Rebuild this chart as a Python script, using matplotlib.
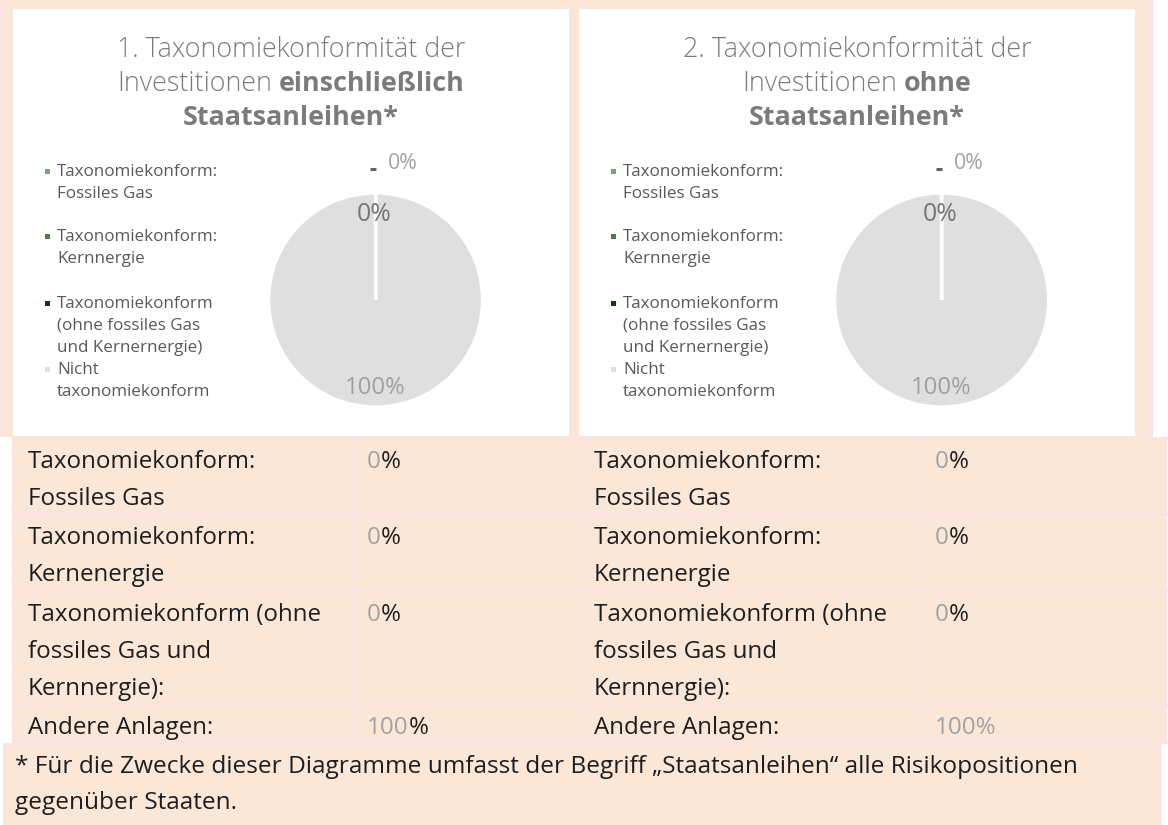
import matplotlib
matplotlib.use("Agg")
import matplotlib.pyplot as plt
from matplotlib.patches import Rectangle

# ---------------- data ----------------
categories = ["Taxonomiekonform:\nFossiles Gas",
              "Taxonomiekonform:\nKernnergie",
              "Taxonomiekonform\n(ohne fossiles Gas\nund Kernernergie)",
              "Nicht\ntaxonomiekonform"]
incl_values = [0, 0, 0, 100]
excl_values = [0, 0, 0, 100]
slice_colors = ["#7f9f7f", "#4e7a4e", "#0b3b0b", "#dfdfdf"]

title1 = ["1. Taxonomiekonformität der", "Investitionen", "einschließlich", "Staatsanleihen*"]
title2 = ["2. Taxonomiekonformität der", "Investitionen", "ohne", "Staatsanleihen*"]

table_labels = ["Taxonomiekonform:\nFossiles Gas",
                "Taxonomiekonform:\nKernenergie",
                "Taxonomiekonform (ohne\nfossiles Gas und\nKernnergie):",
                "Andere Anlagen:"]
table_incl = [0, 0, 0, 100]
table_excl = [0, 0, 0, 100]

footnote = ["* Für die Zwecke dieser Diagramme umfasst der Begriff \u201eStaatsanleihen\u201c alle Risikopositionen",
            "gegenüber Staaten."]

# ---------------- style ----------------
W, H, DPI = 1168, 825, 100
PEACH = "#fbe7d7"
PINK = "#fde2e3"
FONT = "Open Sans"
TITLE_C = "#7b7b7b"
LEG_C = "#595959"
VAL_GREY = "#a3a3a3"
TXT = "#1e1e1e"

fig = plt.figure(figsize=(W / DPI, H / DPI), dpi=DPI, facecolor="white")
bg = fig.add_axes([0, 0, 1, 1])
bg.set_xlim(0, W)
bg.set_ylim(H, 0)
bg.axis("off")
renderer = fig.canvas.get_renderer()


def width_of(s, size, **kw):
    t = bg.text(0, 0, s, fontsize=size, family=FONT, **kw)
    w = t.get_window_extent(renderer).width
    t.remove()
    return w


def fit(s, target, **kw):
    return 10 * target / width_of(s, 10, **kw)


def parts_text(x, y, parts, size, ha="left", va="center"):
    """parts: list of (string, color, weight)"""
    items = []
    total = 0
    for s, c, wgt in parts:
        w = width_of(s, size, fontweight=wgt)
        items.append((s, c, wgt, w))
        total += w
    x0 = x - total / 2 if ha == "center" else x
    for s, c, wgt, w in items:
        bg.text(x0, y, s, fontsize=size, family=FONT, color=c, fontweight=wgt,
                ha="left", va=va)
        x0 += w


def rect(x, y, w, h, fc, ec="none", lw=0, z=0):
    bg.add_patch(Rectangle((x, y), w, h, facecolor=fc, edgecolor=ec, linewidth=lw, zorder=z))


# ---------------- backgrounds ----------------
rect(0, 0, 1148, 437, PEACH)
rect(1148, 0, 5, 437, PINK)
rect(0, 0, 2, 437, PINK)
panels = [13, 579]
for px in panels:
    rect(px, 9, 556, 427, "white", z=1)

# ---------------- charts ----------------
title_size = fit(title1[0], 348, fontweight="light")
leg_size = fit("Taxonomiekonform:", 160)

for px, title, vals in [(13, title1, incl_values), (579, title2, excl_values)]:
    cx = px + 278
    parts_text(cx, 57, [(title[0], TITLE_C, "light")], title_size, ha="center", va="baseline")
    parts_text(cx, 91, [(title[1], TITLE_C, "light"), (" ", TITLE_C, "light"),
                        (title[2], TITLE_C, "bold")], title_size, ha="center", va="baseline")
    parts_text(cx, 125, [(title[3], TITLE_C, "bold")], title_size, ha="center", va="baseline")

    # legend (manual, entries at fixed pitch like the original)
    entry_y = [172, 237, 304, 370]
    for lab, col, ey in zip(categories, slice_colors, entry_y):
        rect(px + 32, ey - 3, 5, 5, col, z=3)
        for i, line in enumerate(lab.split("\n")):
            bg.text(px + 44, ey + i * 22, line, fontsize=leg_size, family=FONT,
                    color=LEG_C, ha="left", va="center", zorder=3)

    # pie
    pcx, pcy, r = px + 362.6, 300, 107
    ax = fig.add_axes([(pcx - r) / W, 1 - (pcy + r) / H, 2 * r / W, 2 * r / H])
    ax.set_zorder(4)
    wedges, _ = ax.pie(vals, colors=slice_colors, startangle=90, counterclock=False,
                       wedgeprops=dict(edgecolor="white", linewidth=2.4), radius=1)
    for w, v in zip(wedges, vals):
        if v == 0:
            w.set_zorder(3)
    ax.set_xlim(-1, 1)
    ax.set_ylim(-1, 1)
    ax.set_aspect("auto")
    ax.axis("off")
    total = sum(vals)
    ax.text(-0.01, 0.80, f"{vals[1] / total:.0%}", fontsize=fit("0%", 35), family=FONT,
            color="#757575", ha="center", va="center", clip_on=False, zorder=5)
    ax.plot([-0.052, 0.004], [1.224, 1.224], color="#636363", lw=2.2,
            solid_capstyle="butt", clip_on=False)
    ax.text(0.257, 1.28, f"{vals[0] / total:.0%}", fontsize=fit("0%", 30), family=FONT,
            color="#a3a3a3", ha="center", va="center", clip_on=False)
    ax.text(0.0, -0.82, f"{vals[3] / total:.0%}", fontsize=fit("100%", 61), family=FONT,
            color="#a0a0a0", ha="center", va="center", clip_on=False, zorder=5)

# ---------------- table ----------------
row_edges = [438, 514, 591, 704, 742]
col_edges = [13, 352, 580, 920, 1165]
rect(13, 438, 1152, 304, PEACH, z=1)
for y in row_edges:
    bg.plot([13, 1166], [y, y], color=PINK, lw=2, zorder=2)
for x in col_edges:
    bg.plot([x, x], [437, 742], color=PINK, lw=2, zorder=2)

tab_size = fit("Taxonomiekonform:", 228)
for i, lab in enumerate(table_labels):
    y0 = row_edges[i] + 24
    for j, line in enumerate(lab.split("\n")):
        for xoff in (28, 594):
            bg.text(xoff, y0 + j * 37, line, fontsize=tab_size, family=FONT,
                    color=TXT, ha="left", va="center", zorder=3)
    # left values: grey number, black percent sign
    parts_text(367, y0, [(f"{table_incl[i]}", VAL_GREY, "normal"), ("%", TXT, "normal")], tab_size)
    if table_excl[i] >= 100:
        parts_text(935, y0, [(f"{table_excl[i]}%", VAL_GREY, "normal")], tab_size)
    else:
        parts_text(935, y0, [(f"{table_excl[i]}", VAL_GREY, "normal"), ("%", TXT, "normal")], tab_size)

# ---------------- footnote ----------------
bg.add_patch(Rectangle((3.5, 743.5), 1155, 82, facecolor=PEACH, edgecolor=PINK,
                       linewidth=2.2, zorder=1))
fn_size = fit(footnote[0], 1063)
bg.text(15, 767, footnote[0], fontsize=fn_size, family=FONT, color=TXT, ha="left", va="center", zorder=3)
bg.text(15, 803, footnote[1], fontsize=fn_size, family=FONT, color=TXT, ha="left", va="center", zorder=3)

fig.savefig("out.png", dpi=DPI, facecolor="white")
